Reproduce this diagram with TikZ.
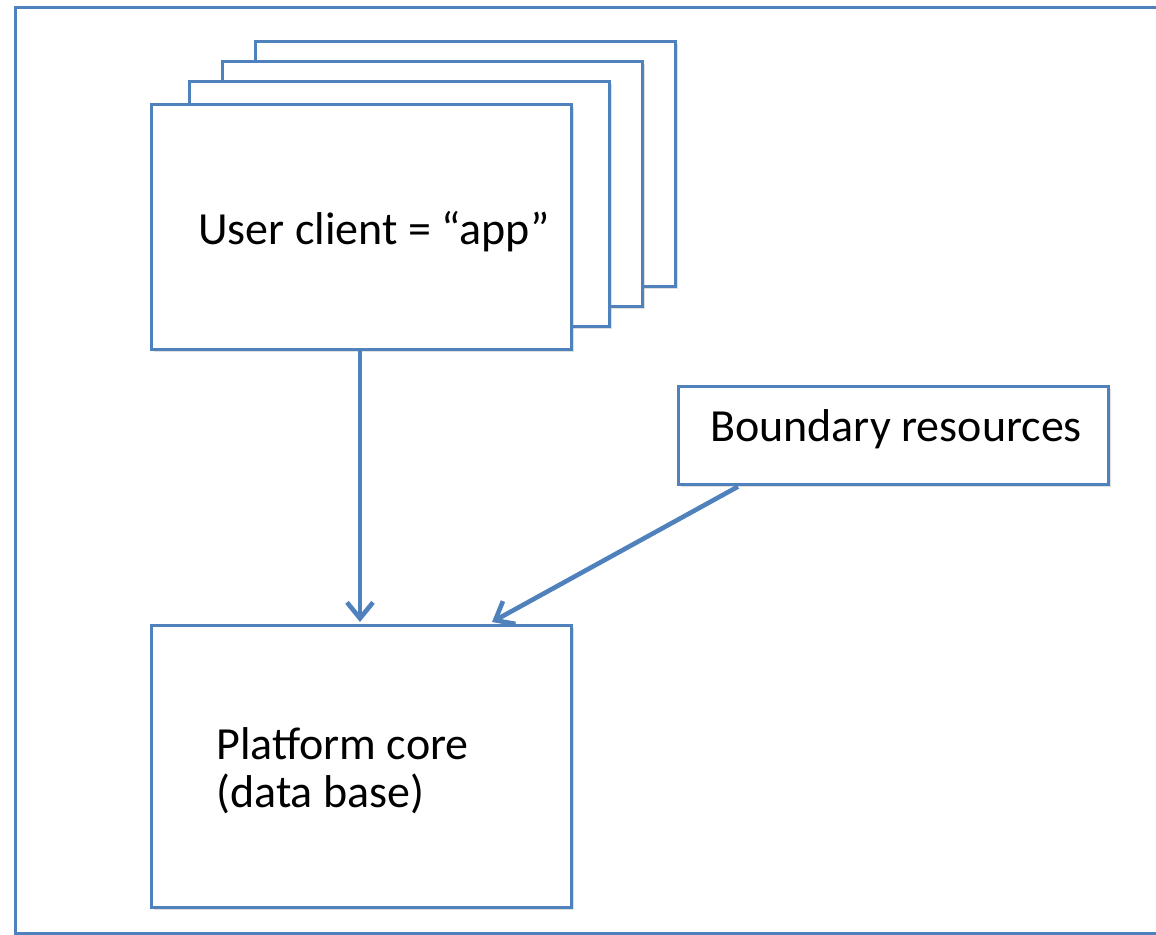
\documentclass[tikz,border=0pt]{standalone}
\usepackage{fontspec}
\setmainfont{Carlito}
\usetikzlibrary{arrows.meta,calc,shadows}
\definecolor{obl}{HTML}{4F81BD}
\begin{document}
\begin{tikzpicture}[x=0.5pt,y=-0.5pt,
  boxshadow/.style={drop shadow={shadow xshift=1.2pt,shadow yshift=-1.5pt,opacity=0.25,fill=black!50}},
  box/.style={draw=obl,line width=1.3pt,fill=white,boxshadow,inner sep=0pt,anchor=north west},
  stackbox/.style={box,minimum width=210pt,minimum height=122.5pt},
  txt/.style={font=\fontsize{23}{24}\selectfont,inner sep=0pt},
  conn/.style={draw=obl,line width=2.3pt,-{Straight Barb[length=8pt,width=13pt,line width=2.3pt]}}]
\useasboundingbox (0,0) rectangle (1156,934);
\clip (0,0) rectangle (1156,934);
% outer frame (its right side lies beyond the picture)
\node[draw=obl,line width=1.4pt,fill=white,boxshadow,inner sep=0pt,anchor=north west,
  minimum width=640pt,minimum height=463pt] (frame) at (14,6) {};
% stacked client boxes
\node[stackbox] (c4) at (254,40) {};
\node[stackbox] (c3) at (221,60) {};
\node[stackbox] (c2) at (188,80) {};
\node[stackbox] (c1) at (150,103) {};
\node[txt,anchor=west] (ctext) at (198,232) {User client = “app”};
% boundary resources
\node[box,minimum width=215pt,minimum height=49pt] (bnd) at (677,385) {};
\node[txt] (btext) at (896,429) {Boundary resources};
% platform core
\node[box,minimum width=210pt,minimum height=141pt] (core) at (150,624) {};
\node[txt,anchor=west,align=left] (ptext) at (216,771) {Platform core\\(data base)};
% connectors
\coordinate (cstart) at ($(c1.south west)+(210,0)$);
\coordinate (cend) at ($(core.north west)+(210,-2)$);
\draw[conn] (cstart) -- (cend);
\coordinate (bstart) at ($(bnd.south west)+(61,1)$);
\coordinate (bend) at ($(core.north west)+(342,-2)$);
\draw[conn] (bstart) -- (bend);
\end{tikzpicture}
\end{document}
